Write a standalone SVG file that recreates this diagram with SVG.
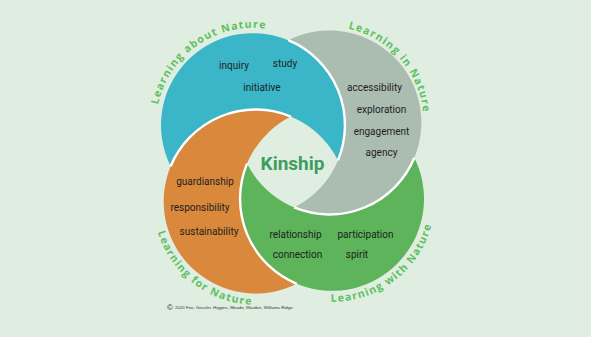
<svg xmlns="http://www.w3.org/2000/svg" width="591" height="337" viewBox="0 0 591 337">
  <style>
    .word { font-family: Roboto, "Liberation Sans", sans-serif; font-size: 10px; fill: #1e1e1e; text-anchor: middle; }
    .label { font-family: "Open Sans", "DejaVu Sans", sans-serif; font-weight: 700; font-size: 10.5px; letter-spacing: 1.2px; fill: #5dc05d; }
    .seam { fill: none; stroke: #ffffff; stroke-width: 2.4; }
  </style>
  <defs>
    <path id="arcAbout" d="M169,173.5 A97,97 0 0 1 327.3,62.6"/>
    <path id="arcIn" d="M266.3,48.5 A96,96 0 0 1 393.5,192.2"/>
    <path id="arcWith" d="M253.5,264.9 A102.5,102.5 0 0 0 416,140.2"/>
    <path id="arcFor" d="M172,143.2 A102.5,102.5 0 0 0 334.5,267.9"/>
  </defs>
  <rect x="0" y="0" width="591" height="337" fill="#dfeee1"/>

  <g id="shapes" transform="rotate(-2 292.5 162)">
    <path id="crescent-about" fill="#3bb6c8" d="M170.6,162 A92,92 0 1 1 338,162 A92,92 0 0 0 170.6,162 Z"/>
    <path id="crescent-in" fill="#abbcb1" d="M292.5,40.1 A92,92 0 1 1 292.5,207.5 A92,92 0 0 0 292.5,40.1 Z"/>
    <path id="crescent-with" fill="#5db45a" d="M414.4,162 A92,92 0 1 1 247,162 A92,92 0 0 0 414.4,162 Z"/>
    <path id="crescent-for" fill="#d9883c" d="M292.5,283.9 A92,92 0 1 1 292.5,116.5 A92,92 0 0 0 292.5,283.9 Z"/>
    <g id="seams">
      <path class="seam" d="M170.6,162 A92,92 0 0 1 292.5,116.5"/>
      <path class="seam" d="M292.5,40.1 A92,92 0 0 1 338,162"/>
      <path class="seam" d="M414.4,162 A92,92 0 0 1 292.5,207.5"/>
      <path class="seam" d="M292.5,283.9 A92,92 0 0 1 247,162"/>
    </g>
  </g>

  <g id="about">
    <text class="word" x="234" y="69">inquiry</text>
    <text class="word" x="285" y="67">study</text>
    <text class="word" x="262" y="91">initiative</text>
    <text class="label"><textPath href="#arcAbout" startOffset="50%" text-anchor="middle">Learning about Nature</textPath></text>
  </g>

  <g id="in">
    <text class="word" x="374.5" y="91">accessibility</text>
    <text class="word" x="381.5" y="113">exploration</text>
    <text class="word" x="381.5" y="135">engagement</text>
    <text class="word" x="381.5" y="156">agency</text>
    <text class="label"><textPath href="#arcIn" startOffset="50%" text-anchor="middle">Learning in Nature</textPath></text>
  </g>

  <g id="with">
    <text class="word" x="295.5" y="238">relationship</text>
    <text class="word" x="365.5" y="238">participation</text>
    <text class="word" x="297.5" y="258">connection</text>
    <text class="word" x="357" y="258">spirit</text>
    <text class="label"><textPath href="#arcWith" startOffset="50%" text-anchor="middle">Learning with Nature</textPath></text>
  </g>

  <g id="for">
    <text class="word" x="205" y="185">guardianship</text>
    <text class="word" x="200" y="211">responsibility</text>
    <text class="word" x="209" y="235">sustainability</text>
    <text class="label"><textPath href="#arcFor" startOffset="50%" text-anchor="middle">Learning for Nature</textPath></text>
  </g>

  <g id="kinship">
    <text x="292.5" y="170" font-family="Roboto, 'Liberation Sans', sans-serif" font-weight="700" font-size="19" fill="#3f9d60" text-anchor="middle">Kinship</text>
  </g>

  <g id="copyright">
    <text x="167" y="309.5" font-family="'Liberation Sans', Arial, sans-serif" font-size="8" fill="#222">©</text>
    <text x="175" y="309" font-family="'Liberation Sans', Arial, sans-serif" font-size="4.4" fill="#333">2020 Fox, Gessler, Higgins, Meade, Warden, Williams Ridge</text>
  </g>
</svg>
